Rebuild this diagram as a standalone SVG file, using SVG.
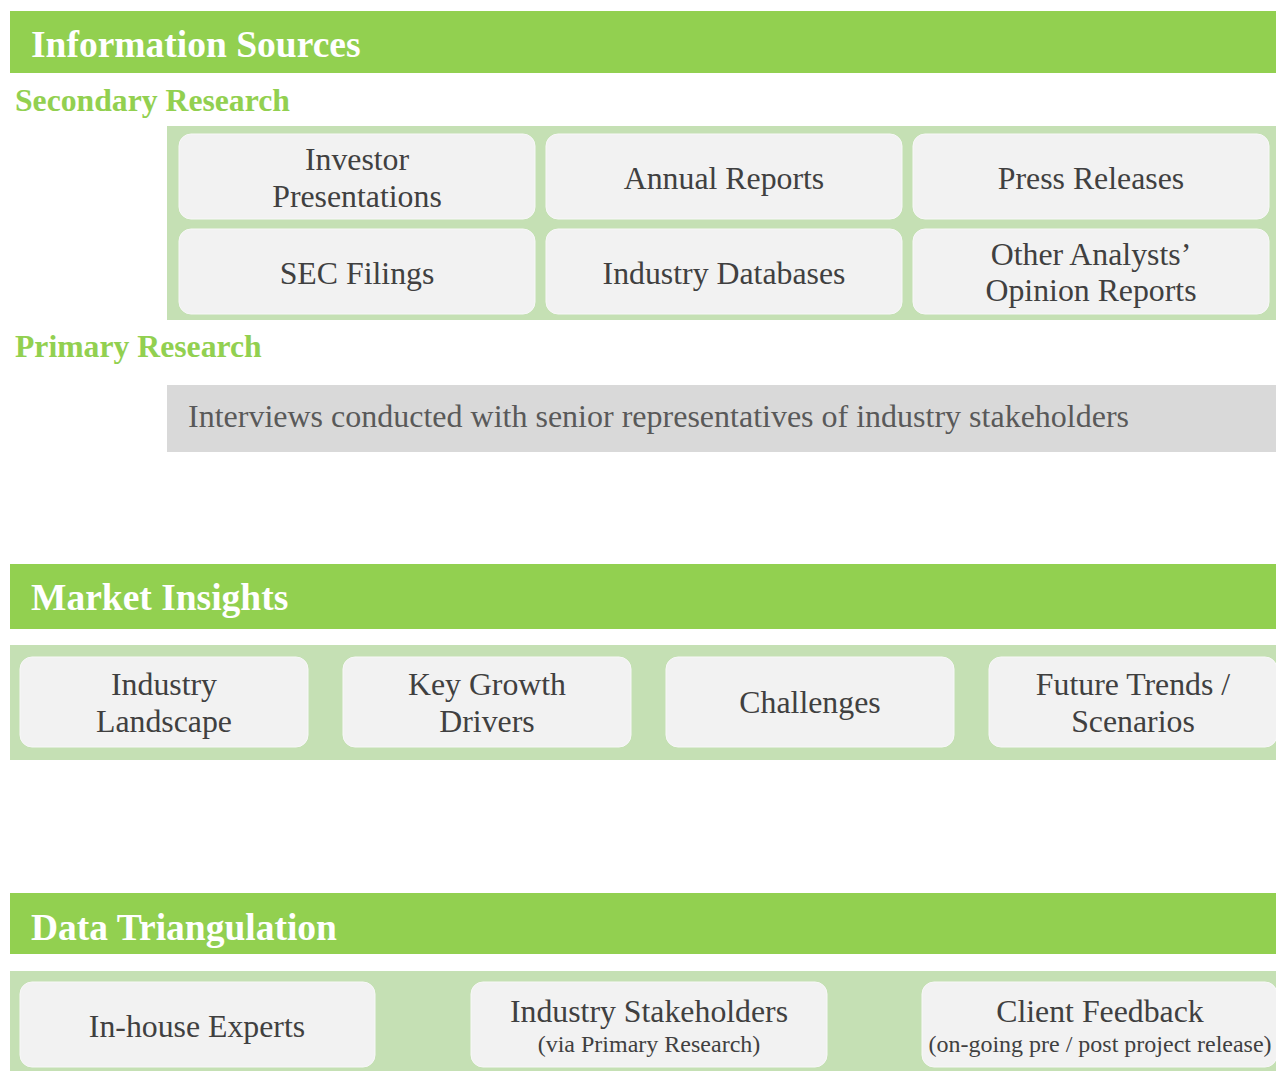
<svg xmlns="http://www.w3.org/2000/svg" width="1276" height="1071" viewBox="0 0 1276 1071">
<style>
.hdr{fill:#92D050}
.hdrt{font-family:"Liberation Serif","Times New Roman",serif;font-weight:bold;font-size:37.5px;fill:#FFFFFF}
.sub{font-family:"Liberation Serif","Times New Roman",serif;font-weight:bold;font-size:31.7px;fill:#92D050}
.band{fill:#C5E0B4}
.box{fill:#F2F2F2;stroke:#F8F8F8;stroke-width:1}
.t{font-family:"Liberation Serif","Times New Roman",serif;font-size:31.8px;fill:#404040;text-anchor:middle}
.s{font-family:"Liberation Serif","Times New Roman",serif;font-size:24px;fill:#404040;text-anchor:middle}
.prim{fill:#D9D9D9}
.pt{font-family:"Liberation Serif","Times New Roman",serif;font-size:32px;fill:#595959}
</style>
<rect width="1276" height="1071" fill="#FFFFFF"/>

<g id="information-sources">
<rect class="hdr" x="10" y="11" width="1266" height="62"/>
<text class="hdrt" x="31" y="57">Information Sources</text>
<text class="sub" x="15" y="111">Secondary Research</text>
<rect class="band" x="167" y="126" width="1109" height="194"/>
</g>
<g id="investor-presentations"><rect class="box" x="179" y="134" width="356" height="85" rx="12"/><text class="t" x="357" y="170">Investor</text><text class="t" x="357" y="207">Presentations</text></g>
<g id="annual-reports"><rect class="box" x="546" y="134" width="356" height="85" rx="12"/><text class="t" x="724" y="189">Annual Reports</text></g>
<g id="press-releases"><rect class="box" x="913" y="134" width="356" height="85" rx="12"/><text class="t" x="1091" y="189">Press Releases</text></g>
<g id="sec-filings"><rect class="box" x="179" y="229" width="356" height="85" rx="12"/><text class="t" x="357" y="284">SEC Filings</text></g>
<g id="industry-databases"><rect class="box" x="546" y="229" width="356" height="85" rx="12"/><text class="t" x="724" y="284">Industry Databases</text></g>
<g id="other-analysts"><rect class="box" x="913" y="229" width="356" height="85" rx="12"/><text class="t" x="1091" y="265">Other Analysts’</text><text class="t" x="1091" y="301">Opinion Reports</text></g>

<g id="primary-research">
<text class="sub" x="15" y="357">Primary Research</text>
<rect class="prim" x="167" y="385" width="1109" height="67"/>
<text class="pt" x="188" y="427">Interviews conducted with senior representatives of industry stakeholders</text>
</g>

<g id="market-insights">
<rect class="hdr" x="10" y="564" width="1266" height="65"/>
<text class="hdrt" x="31" y="610">Market Insights</text>
<rect class="band" x="10" y="645" width="1266" height="115"/>
</g>
<g id="industry-landscape"><rect class="box" x="20" y="657" width="288" height="90" rx="12"/><text class="t" x="164" y="695">Industry</text><text class="t" x="164" y="732">Landscape</text></g>
<g id="key-growth-drivers"><rect class="box" x="343" y="657" width="288" height="90" rx="12"/><text class="t" x="487" y="695">Key Growth</text><text class="t" x="487" y="732">Drivers</text></g>
<g id="challenges"><rect class="box" x="666" y="657" width="288" height="90" rx="12"/><text class="t" x="810" y="713">Challenges</text></g>
<g id="future-trends"><rect class="box" x="989" y="657" width="288" height="90" rx="12"/><text class="t" x="1133" y="695">Future Trends /</text><text class="t" x="1133" y="732">Scenarios</text></g>

<g id="data-triangulation">
<rect class="hdr" x="10" y="893" width="1266" height="61"/>
<text class="hdrt" x="31" y="940">Data Triangulation</text>
<rect class="band" x="10" y="971" width="1266" height="100"/>
</g>
<g id="in-house-experts"><rect class="box" x="20" y="982" width="355" height="85" rx="12"/><text class="t" x="197" y="1037">In-house Experts</text></g>
<g id="industry-stakeholders"><rect class="box" x="471" y="982" width="356" height="85" rx="12"/><text class="t" x="649" y="1022">Industry Stakeholders</text><text class="s" x="649" y="1052">(via Primary Research)</text></g>
<g id="client-feedback"><rect class="box" x="922" y="982" width="355" height="85" rx="12"/><text class="t" x="1100" y="1022">Client Feedback</text><text class="s" x="1100" y="1052">(on-going pre / post project release)</text></g>

<g id="connectors"></g>
</svg>
